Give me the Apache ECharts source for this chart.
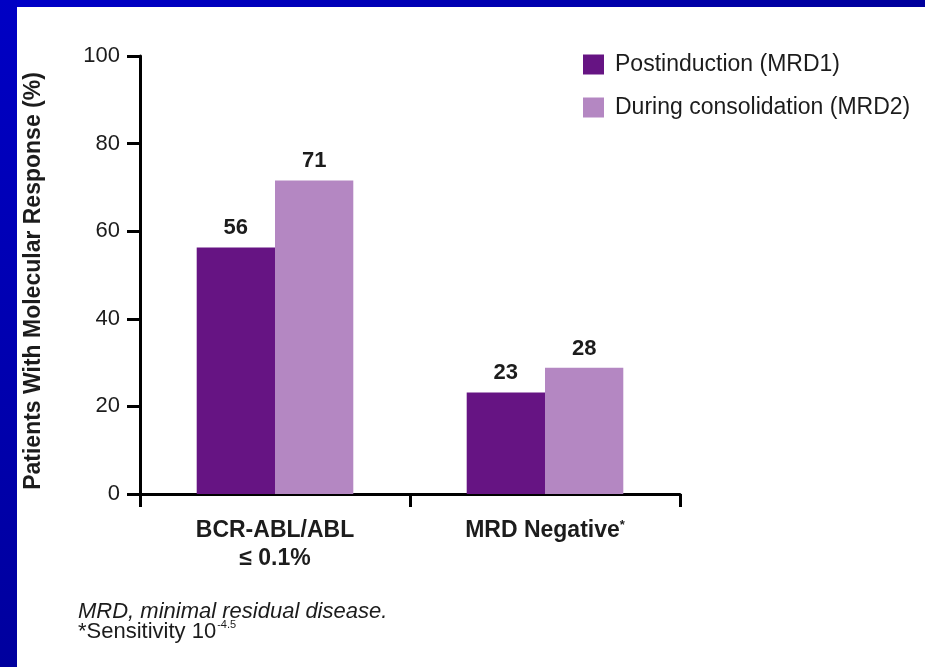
<!DOCTYPE html>
<html>
<head>
<meta charset="utf-8">
<script src="https://cdn.jsdelivr.net/npm/echarts@6/dist/echarts.min.js"></script>
<style>
html,body{margin:0;padding:0;background:#fff;}
#c{width:925px;height:667px;}
</style>
</head>
<body>
<div id="c"></div>
<script>
const categories = ['BCR-ABL/ABL\n≤ 0.1%', 'MRD Negative*'];
const seriesNames = ['Postinduction (MRD1)', 'During consolidation (MRD2)'];
const mrd1Values = [56.3, 23.2];
const mrd2Values = [71.6, 28.8];
const mrd1Labels = ['56', '23'];
const mrd2Labels = ['71', '28'];
const yTicks = [0, 20, 40, 60, 80, 100];
const footnote1 = 'MRD, minimal residual disease.';
const footnote2 = '*Sensitivity 10';
const footnote2Sup = '-4.5';

const FONT = '"Liberation Sans", Arial, Helvetica, sans-serif';
const TXT = '#1c1c1c';
const C1 = '#661483';
const C2 = '#b487c2';

const chart = echarts.init(document.getElementById('c'));

function catFormatter(v) {
  return v.split('\n').map(line => {
    if (line.endsWith('*')) return '{b|' + line.slice(0, -1) + '}{s|*}';
    return '{b|' + line + '}';
  }).join('\n');
}

chart.setOption({
  backgroundColor: '#ffffff',
  animation: false,
  textStyle: { fontFamily: FONT },
  graphic: [
    { type: 'rect', shape: { x: 0, y: 0, width: 925, height: 7 },
      style: { fill: new echarts.graphic.LinearGradient(0, 0, 1, 0, [
        { offset: 0, color: '#0000c8' }, { offset: 1, color: '#00009c' }]) } },
    { type: 'rect', shape: { x: 0, y: 0, width: 17, height: 667 },
      style: { fill: new echarts.graphic.LinearGradient(0, 0, 0, 1, [
        { offset: 0, color: '#0000c4' }, { offset: 1, color: '#00009e' }]) } },
    { type: 'text', left: 78, top: 601,
      style: { text: footnote1, font: 'italic 22px ' + FONT, fill: TXT } },
    { type: 'text', left: 78, top: 619,
      style: { text: '{m|' + footnote2 + '}{s|' + footnote2Sup + '}',
        fill: TXT,
        rich: {
          m: { fontSize: 22, fontFamily: FONT, fill: TXT },
          s: { fontSize: 11, fontFamily: FONT, fill: TXT, padding: [0, 0, 14, 1] }
        } } }
  ],
  legend: {
    orient: 'vertical',
    left: 583,
    top: 53,
    padding: 0,
    itemWidth: 21,
    itemHeight: 20,
    itemGap: 20,
    icon: 'rect',
    textStyle: { fontSize: 23, color: TXT, fontFamily: FONT, lineHeight: 20, padding: [0, 0, 0, 6] },
    data: seriesNames
  },
  grid: { left: 140, top: 56, right: 245, bottom: 173, containLabel: false },
  xAxis: {
    type: 'category',
    data: categories,
    axisLine: { lineStyle: { color: '#000', width: 3 } },
    axisTick: { show: true, length: 13, lineStyle: { color: '#000', width: 3 } },
    axisLabel: {
      margin: 23,
      formatter: catFormatter,
      rich: {
        b: { fontSize: 23, fontWeight: 'bold', color: TXT, fontFamily: FONT, lineHeight: 28 },
        s: { fontSize: 13, fontWeight: 'bold', color: TXT, fontFamily: FONT, padding: [0, 0, 12, 0] }
      }
    }
  },
  yAxis: {
    type: 'value',
    min: 0,
    max: 100,
    interval: 20,
    name: 'Patients With Molecular Response (%)',
    nameLocation: 'middle',
    nameGap: 95,
    nameTextStyle: { fontSize: 23, fontWeight: 'bold', color: TXT, fontFamily: FONT, padding: [0, 12, 0, 0] },
    axisLine: { show: true, lineStyle: { color: '#000', width: 3 } },
    axisTick: { show: true, length: 13, lineStyle: { color: '#000', width: 3 } },
    splitLine: { show: false },
    axisLabel: {
      margin: 20, fontSize: 22, color: TXT, fontFamily: FONT,
      formatter: v => (yTicks.indexOf(v) >= 0 ? String(v) : '')
    }
  },
  series: [
    {
      name: seriesNames[0], type: 'bar', data: mrd1Values,
      barGap: '0%', barCategoryGap: '42%',
      itemStyle: { color: C1 },
      label: { show: true, position: 'top', distance: 8, fontSize: 22, fontWeight: 'bold', color: TXT, fontFamily: FONT,
        formatter: p => mrd1Labels[p.dataIndex] }
    },
    {
      name: seriesNames[1], type: 'bar', data: mrd2Values,
      barGap: '0%', barCategoryGap: '42%',
      itemStyle: { color: C2 },
      label: { show: true, position: 'top', distance: 8, fontSize: 22, fontWeight: 'bold', color: TXT, fontFamily: FONT,
        formatter: p => mrd2Labels[p.dataIndex] }
    }
  ]
});
</script>
</body>
</html>
